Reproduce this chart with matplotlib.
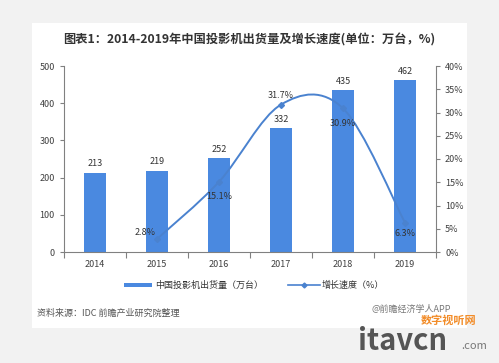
import matplotlib
matplotlib.use("Agg")
import matplotlib.pyplot as plt
from matplotlib.path import Path
from matplotlib.patches import PathPatch, Rectangle
import numpy as np

plt.rcParams['font.family'] = ['Noto Sans CJK SC', 'DejaVu Sans']

years = ['2014', '2015', '2016', '2017', '2018', '2019']
shipments = [213, 219, 252, 332, 435, 462]
growth_years = ['2015', '2016', '2017', '2018', '2019']
growth = [2.8, 15.1, 31.7, 30.9, 6.3]
left_ticks = [0, 100, 200, 300, 400, 500]
right_ticks = [0, 5, 10, 15, 20, 25, 30, 35, 40]

W, H = 499, 363
fig = plt.figure(figsize=(W / 100, H / 100), dpi=100)
fig.patch.set_facecolor('#f2f2f2')
fig.patches.append(Rectangle((32 / W, 1 - 328 / H), (467 - 32) / W, (328 - 23) / H,
                             transform=fig.transFigure, facecolor='white', edgecolor='none', zorder=-5))

ax = fig.add_axes([64 / W, 1 - 252 / H, (436 - 64) / W, (252 - 66) / H])
ax.set_facecolor('none')
x = np.arange(len(years))
bar_color = '#4a89e0'
line_color = '#4a82cf'
ax.bar(x, shipments, width=0.36, color=bar_color, zorder=2)
for xi, v in zip(x, shipments):
    ax.text(xi, v + 12, str(v), ha='center', va='bottom', fontsize=6.5, color='#333333')
ax.set_xlim(-0.5, len(years) - 0.5)
ax.set_ylim(0, 500)
ax.set_yticks(left_ticks)
ax.set_xticks(x)
ax.set_xticklabels(years)
ax.set_xticks(np.arange(len(years) + 1) - 0.5, minor=True)
for s in ['top', 'right']:
    ax.spines[s].set_visible(False)
for s in ['left', 'bottom']:
    ax.spines[s].set_color('#808080')
    ax.spines[s].set_linewidth(0.8)
ax.tick_params(axis='both', labelsize=6.5, colors='#808080', labelcolor='#404040', length=3, width=0.8)
ax.tick_params(axis='x', which='major', length=0, pad=6)
ax.tick_params(axis='x', which='minor', length=4, width=0.8, colors='#808080')

ax2 = ax.twinx()
ax2.set_ylim(0, 40)
ax2.set_yticks(right_ticks)
ax2.set_yticklabels([f'{t}%' for t in right_ticks])
for s in ['top', 'left', 'bottom']:
    ax2.spines[s].set_visible(False)
ax2.spines['right'].set_color('#808080')
ax2.spines['right'].set_linewidth(0.8)
ax2.tick_params(axis='y', labelsize=6.5, colors='#808080', labelcolor='#404040', length=3, width=0.8)

gx = np.array([years.index(y) for y in growth_years], dtype=float)
gy = np.array(growth, dtype=float)
# smoothed line (Catmull-Rom style Bezier through the data points)
verts = [(gx[0], gy[0])]
codes = [Path.MOVETO]
n = len(gx)
for i in range(n - 1):
    p0 = np.array([gx[max(i - 1, 0)], gy[max(i - 1, 0)]])
    p1 = np.array([gx[i], gy[i]])
    p2 = np.array([gx[i + 1], gy[i + 1]])
    p3 = np.array([gx[min(i + 2, n - 1)], gy[min(i + 2, n - 1)]])
    c1 = p1 + (p2 - p0) / 6
    c2 = p2 - (p3 - p1) / 6
    verts += [tuple(c1), tuple(c2), tuple(p2)]
    codes += [Path.CURVE4] * 3
ax2.add_patch(PathPatch(Path(verts, codes), facecolor='none', edgecolor=line_color, lw=1.4, zorder=3))
ax2.plot(gx, gy, linestyle='none', marker='D', markersize=3, color=line_color, zorder=4)
offsets = [(-0.2, 1.3), (0, -3.2), (0, 2.0), (0, -3.2), (0, -2.3)]
for xi, v, (dx, dy) in zip(gx, gy, offsets):
    ax2.text(xi + dx, v + dy, f'{v}%', ha='center', va='center', fontsize=6.5, color='#333333', zorder=5)

fig.text(0.5, 1 - 40 / H, '图表1：2014-2019年中国投影机出货量及增长速度(单位：万台，%)',
         ha='center', va='center', fontsize=8.8, fontweight='bold', color='#333333')

# legend
fig.patches.append(Rectangle((124 / W, 1 - 287 / H), 28 / W, 4 / H, transform=fig.transFigure,
                             facecolor=bar_color, edgecolor='none'))
fig.text(155 / W, 1 - 285 / H, '中国投影机出货量（万台）', ha='left', va='center', fontsize=6.5, color='#333333')
fig.lines.append(plt.Line2D([288 / W, 320 / W], [1 - 285 / H, 1 - 285 / H], transform=fig.transFigure,
                            color=line_color, lw=1.2))
fig.lines.append(plt.Line2D([304 / W], [1 - 285 / H], transform=fig.transFigure,
                            color=line_color, marker='D', markersize=2.5, linestyle='none'))
fig.text(322 / W, 1 - 285 / H, '增长速度（%）', ha='left', va='center', fontsize=6.5, color='#333333')

fig.text(37 / W, 1 - 313 / H, '资料来源：IDC 前瞻产业研究院整理', ha='left', va='center', fontsize=6.5, color='#555555')
fig.text(372 / W, 1 - 309 / H, '@前瞻经济学人APP', ha='left', va='center', fontsize=6.5, color='#777777')
fig.text(421 / W, 1 - 320 / H, '数字视听网', ha='left', va='center', fontsize=8, color='#f28c28', fontweight='bold')
fig.text(358 / W, 1 - 341 / H, 'itavcn', ha='left', va='center', fontsize=21, color='#555555', fontweight='bold')
fig.text(461 / W, 1 - 346 / H, '.com', ha='left', va='center', fontsize=8, color='#777777')

fig.savefig('out.png', dpi=100, facecolor=fig.get_facecolor())
